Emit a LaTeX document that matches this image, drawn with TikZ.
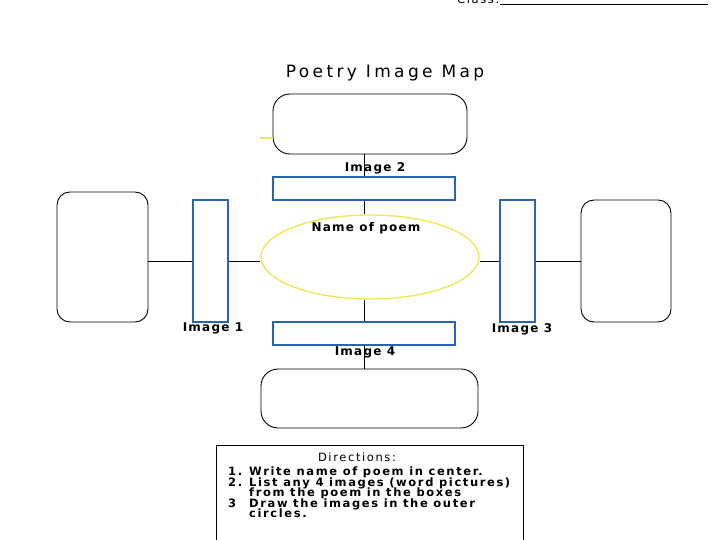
\documentclass[tikz,border=0pt]{standalone}
\usepackage{fontspec}
\setmainfont{DejaVu Sans}
\newfontfamily\mapfont[LetterSpace=10]{DejaVu Sans}
\newfontfamily\dirfont[LetterSpace=14]{DejaVu Sans}
\newfontfamily\titlefont[LetterSpace=20]{DejaVu Sans}
\usetikzlibrary{calc, positioning}
\usetikzlibrary{shapes.geometric}
\definecolor{mapblue}{RGB}{40,100,175}
\definecolor{mapyellow}{RGB}{238,232,90}
\tikzset{
  outerbox/.style={draw, line width=0.9pt, rounded corners=13pt, inner sep=0pt},
  imagebox/.style={draw=mapblue, line width=1.6pt, inner sep=0pt},
  poemoval/.style={ellipse, draw=mapyellow, line width=1.4pt, inner sep=0pt},
  maplabel/.style={font=\mapfont\bfseries\fontsize{12}{13}\selectfont, inner sep=0pt, anchor=base},
  dirtext/.style={font=\dirfont\bfseries\fontsize{11.5}{12}\selectfont, inner sep=0pt, anchor=base west},
  link/.style={line width=0.9pt},
}

\begin{document}
\begin{tikzpicture}[x=1pt, y=-1pt]
\def\wide{182pt}
\def\tall{122pt}
\useasboundingbox (0,0) rectangle (720,540);

\coordinate (classend) at (708,4);
\coordinate (stray) at (260,138);

\node[font=\dirfont\fontsize{11.5}{14}\selectfont, anchor=base west, inner sep=0pt] (class) at (457,4) {Class:};
\draw[link] (classend -| class.east) -- (classend);

\node[font=\titlefont\fontsize{17}{19}\selectfont, anchor=base, inner sep=0pt] (title) at (385,78) {Poetry Image Map};

\node[outerbox, rounded corners=17pt, minimum width=194pt, minimum height=60pt] (top) at (370,124) {};
\node[outerbox, rounded corners=17pt, minimum width=217pt, minimum height=59pt] (bottom) at (369.5,398.5) {};
\node[outerbox, minimum width=91pt, minimum height=130pt] (left) at (102.5,257) {};
\node[outerbox, minimum width=90pt, minimum height=\tall] (right) at (626,261) {};

\node[imagebox, minimum width=\wide, minimum height=23pt] (img2) at (364,188.5) {};
\node[imagebox, minimum width=\wide, minimum height=23pt] (img4) at (364,333.5) {};
\node[imagebox, minimum width=35pt, minimum height=\tall] (img1) at (210.5,261) {};
\node[imagebox, minimum width=35pt, minimum height=\tall] (img3) at (517.5,261) {};

\node[poemoval, minimum width=218pt, minimum height=84pt] (poem) at (370,257) {};

\draw[mapyellow, line width=1.2pt] (stray) -- (stray -| top.west);

\draw[link] (img2.north |- top.south) -- (img2.north);
\draw[link] (img2.south) -- (img2.south |- poem.north);
\draw[link] (img4.north |- poem.south) -- (img4.north);
\draw[link] (img4.south) -- (img4.south |- bottom.north);
\draw[link] (left.east |- img1.west) -- (img1.west);
\draw[link] (img1.east) -- (img1.east -| poem.west);
\draw[link] (poem.east |- img3.west) -- (img3.west);
\draw[link] (img3.east) -- (right.west);

\node[maplabel] (lab2) at (375,172) {Image 2};
\node[maplabel] (lab1) at (213,331.5) {Image 1};
\node[maplabel] (lab3) at (522,332) {Image 3};
\node[maplabel] (lab4) at (365,355) {Image 4};
\node[maplabel] (name) at (366,232) {Name of poem};

\node[draw, line width=0.9pt, minimum width=307pt, minimum height=110pt, anchor=north west, inner sep=0pt] (dirs) at (216,445) {};
\node[font=\dirfont\fontsize{11.5}{12}\selectfont, anchor=base, inner sep=0pt] (dirhead) at (357,461) {Directions:};
\node[dirtext] (dir1) at (228,475) {\makebox[21pt][l]{1.}Write name of poem in center.};
\node[dirtext] (dir2) at (228,486.5) {\makebox[21pt][l]{2.}List any 4 images (word pictures)};
\node[dirtext] (dir3) at (249,496.5) {from the poem in the boxes};
\node[dirtext] (dir4) at (228,507) {\makebox[21pt][l]{3}Draw the images in the outer};
\node[dirtext] (dir5) at (249,517) {circles.};
\end{tikzpicture}
\end{document}
